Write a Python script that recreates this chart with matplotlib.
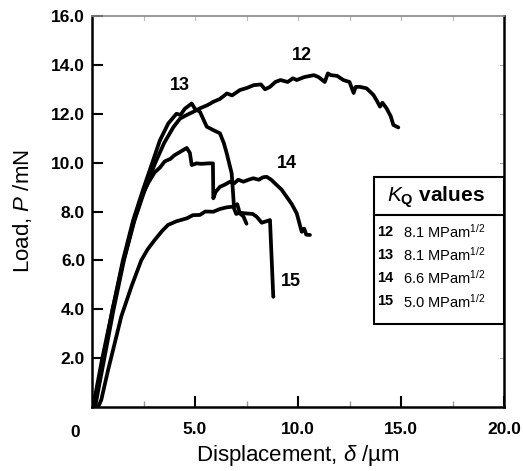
import matplotlib
matplotlib.use("Agg")
import matplotlib.pyplot as plt
from matplotlib.patches import Rectangle
from matplotlib.ticker import FixedLocator

plt.rcParams['font.family'] = ['Liberation Sans', 'DejaVu Sans']
plt.rcParams['mathtext.fontset'] = 'custom'
plt.rcParams['mathtext.rm'] = 'Liberation Sans'
plt.rcParams['mathtext.it'] = 'Liberation Sans:italic'
plt.rcParams['mathtext.bf'] = 'Liberation Sans:bold'

# ---- data ----
x12 = [0.15, 0.6, 1.05, 1.55, 2.05, 2.55, 3.05, 3.5, 3.95, 4.27, 4.6, 4.92, 5.26, 5.6, 5.89,
       6.2, 6.55, 6.8, 7.18, 7.5, 7.85, 8.2, 8.4, 8.64, 8.9, 9.15, 9.5, 9.75, 9.94, 10.3, 10.77,
       11.0, 11.3, 11.45, 11.6, 11.9, 12.2, 12.5, 12.7, 12.8, 13.0, 13.33, 13.66, 13.85, 13.98,
       14.1, 14.3, 14.5, 14.63, 14.87]
y12 = [0.0, 2.0, 4.0, 6.0, 7.6, 8.85, 9.95, 10.8, 11.45, 11.8, 11.95, 12.08, 12.23, 12.35, 12.49,
       12.6, 12.83, 12.75, 12.97, 13.05, 13.17, 13.2, 13.0, 13.1, 13.3, 13.38, 13.3, 13.45, 13.38, 13.5, 13.58,
       13.5, 13.3, 13.65, 13.58, 13.55, 13.38, 13.3, 12.85, 13.1, 13.1, 13.04, 12.77, 12.5, 12.29,
       12.45, 12.22, 11.9, 11.54, 11.44]

x13 = [0.05, 0.5, 1.0, 1.5, 2.0, 2.48, 2.97, 3.29, 3.7, 4.1, 4.3, 4.5, 4.84, 5.0, 5.24, 5.57,
       5.89, 6.21, 6.4, 6.54, 6.78, 6.86, 6.89, 7.05, 7.18, 7.35, 7.5]
y13 = [0.0, 2.0, 4.0, 6.0, 7.65, 8.9, 10.1, 10.9, 11.6, 12.0, 11.95, 12.2, 12.42, 12.2, 12.08, 11.47,
       11.33, 11.2, 10.8, 10.38, 9.56, 8.6, 8.2, 8.3, 7.92, 7.8, 7.5]

x14 = [0.1, 0.55, 1.0, 1.5, 2.0, 2.4, 2.75, 3.04, 3.3, 3.53, 3.8, 4.0, 4.3, 4.5, 4.6, 4.75, 4.84,
       5.08, 5.3, 5.65, 5.87, 5.89, 6.0, 6.21, 6.45, 6.7, 6.9, 7.1, 7.35, 7.6, 7.83, 8.1, 8.3,
       8.48, 8.7, 8.97, 9.2, 9.45, 9.7, 9.94, 10.18, 10.3, 10.4, 10.58]
y14 = [0.0, 2.0, 4.0, 5.9, 7.5, 8.6, 9.2, 9.6, 9.8, 10.05, 10.15, 10.3, 10.45, 10.55, 10.6, 10.4, 9.9,
       9.97, 9.95, 9.97, 9.97, 8.54, 8.8, 9.01, 9.1, 9.22, 9.15, 9.3, 9.22, 9.3, 9.36, 9.3, 9.4,
       9.42, 9.3, 9.08, 8.9, 8.6, 8.3, 7.92, 7.17, 7.3, 7.05, 7.04]

x15 = [0.3, 0.45, 0.78, 1.1, 1.42, 1.91, 2.39, 2.7, 3.04, 3.4, 3.69, 4.1, 4.6, 4.9, 5.24, 5.5,
       5.89, 6.2, 6.54, 6.86, 7.0, 7.18, 7.5, 7.8, 7.99, 8.24, 8.64, 8.8]
y15 = [0.0, 0.29, 1.51, 2.6, 3.7, 4.92, 6.0, 6.45, 6.83, 7.2, 7.45, 7.6, 7.72, 7.85, 7.86, 8.0,
       7.99, 8.1, 8.17, 8.2, 7.9, 7.95, 7.92, 7.9, 7.79, 7.54, 7.65, 4.51]

series_names = ['12', '13', '14', '15']
kq_values = ['8.1', '8.1', '6.6', '5.0']
label_pos = [(10.2, 14.4), (4.27, 13.17), (9.45, 9.97), (9.63, 5.13)]

xticks = [5, 10, 15, 20]
xticklabels = ['5.0', '10.0', '15.0', '20.0']
yticks = [2, 4, 6, 8, 10, 12, 14, 16]

# ---- figure ----
fig = plt.figure(figsize=(5.23, 4.71), dpi=100)
ax = fig.add_axes([92/523, 1-407/471, 412/523, 391/471])

for xs, ys in [(x12, y12), (x13, y13), (x14, y14), (x15, y15)]:
    ax.plot(xs, ys, color='black', lw=2.7, solid_joinstyle='round', solid_capstyle='round')

for name, (lx, ly) in zip(series_names, label_pos):
    ax.text(lx, ly, name, fontsize=13, fontweight='bold', ha='center', va='center')

ax.set_xlim(0, 20)
ax.set_ylim(0, 16)

ax.set_xticks(xticks)
ax.set_xticklabels(xticklabels)
ax.set_yticks(yticks)
ax.set_yticklabels([f'{v:.1f}' for v in yticks])
ax.xaxis.set_minor_locator(FixedLocator([2.5, 7.5, 12.5, 17.5]))

ax.tick_params(axis='both', which='major', direction='in', length=8, width=1.5,
               labelsize=12.5, colors='black')
ax.tick_params(axis='x', which='major', pad=11)
ax.tick_params(axis='y', which='major', pad=5)
ax.tick_params(axis='x', which='minor', direction='in', length=4, width=1, color='#999999')
for lab in ax.get_xticklabels() + ax.get_yticklabels():
    lab.set_fontweight('bold')

# faint top / right ticks
for yv in yticks[:-1]:
    ax.plot([1.0, 0.99], [yv/16, yv/16], transform=ax.transAxes, color='#aaaaaa', lw=0.8, clip_on=False)
for xv in [2.5, 5, 7.5, 10, 12.5, 15, 17.5]:
    ax.plot([xv/20, xv/20], [1.0, 0.99], transform=ax.transAxes, color='#bbbbbb', lw=0.8, clip_on=False)

ax.text(-0.04, -0.065, '0', transform=ax.transAxes, fontsize=12.5, fontweight='bold',
        ha='center', va='center')

for s in ['left', 'bottom', 'right']:
    ax.spines[s].set_linewidth(1.8)
ax.spines['top'].set_linewidth(1.2)
ax.spines['top'].set_color('#888888')

ax.set_xlabel(r'Displacement, $\mathit{\delta}$ /µm', fontsize=16, labelpad=4)
ax.set_ylabel(r'Load, $\mathit{P}$ /mN', fontsize=16, labelpad=12)

# legend box
bx0, by0, by1, bsep = 0.684, 0.212, 0.588, 0.491
ax.add_patch(Rectangle((bx0, by0), 1 - bx0, by1 - by0, transform=ax.transAxes,
                       fill=True, facecolor='white', edgecolor='black', lw=1.5, zorder=5))
ax.plot([bx0, 1.0], [bsep, bsep], transform=ax.transAxes, color='black', lw=1.5, zorder=6)
ax.text(0.835, 0.537, r'$\mathbf{\mathit{K}_{Q}}$ values', transform=ax.transAxes,
        fontsize=15, fontweight='bold', ha='center', va='center', zorder=7)
row_y = [0.448, 0.389, 0.330, 0.270]
for name, kq, ry in zip(series_names, kq_values, row_y):
    ax.text(0.692, ry, name, transform=ax.transAxes, fontsize=10.5, fontweight='bold',
            ha='left', va='center', zorder=7)
    ax.text(0.755, ry, kq + r' MPam$^{1/2}$', transform=ax.transAxes, fontsize=10.5,
            ha='left', va='center', zorder=7)

fig.savefig('out.png', dpi=100)
